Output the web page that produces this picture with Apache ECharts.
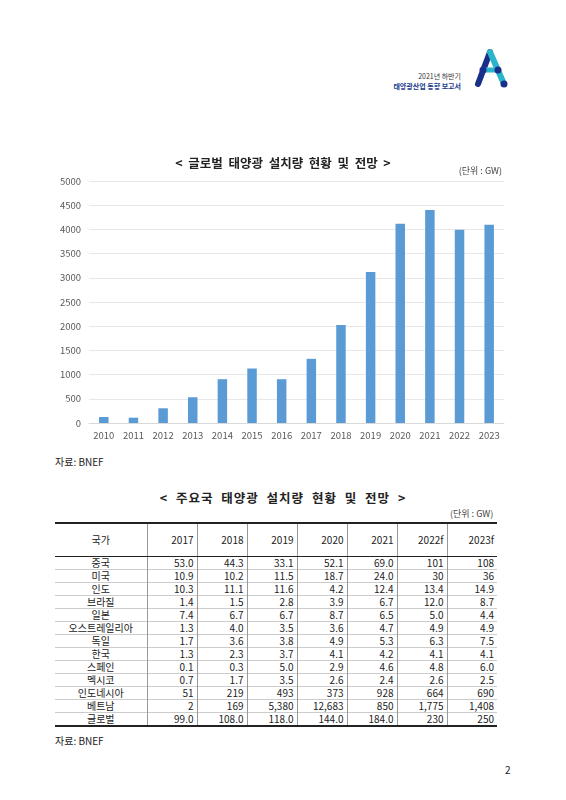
<!DOCTYPE html>
<html><head><meta charset="utf-8">
<script src="https://cdn.jsdelivr.net/npm/echarts@6/dist/echarts.min.js"></script>
<style>
body{margin:0;width:566px;height:800px;background:#fff;font-family:"Noto Sans CJK KR","Noto Sans",sans-serif;position:relative;overflow:hidden;color:#222}
.abs{position:absolute}
table{border-collapse:collapse;font-size:10px;position:absolute;left:55px;top:522px;width:442px;table-layout:fixed}
td{height:12px;padding:0 3px;line-height:10px;text-align:right;border-left:1px solid #999;border-top:1px solid #ccc}
td:first-child{text-align:center;border-left:none}
tr.h td{height:32px;border-top:2px solid #222;border-bottom:1.5px solid #222}
tr:last-child td{border-bottom:2px solid #222}
</style></head><body>
<div class="abs" style="right:105px;top:71px;font-size:7px;color:#333">2021년 하반기</div>
<div class="abs" style="right:105px;top:81px;font-size:7px;color:#1a3a8a;font-weight:bold">태양광산업 동향 보고서</div>
<svg class="abs" style="left:472px;top:48px" width="40" height="40">
<line x1="6" y1="36" x2="18" y2="4" stroke="#1a2f8a" stroke-width="6" stroke-linecap="round"/>
<line x1="18" y1="4" x2="32" y2="36" stroke="#2bb5c8" stroke-width="6" stroke-linecap="round"/>
<line x1="11" y1="22" x2="26" y2="22" stroke="#2bb5c8" stroke-width="5"/>
<circle cx="11" cy="22" r="3.5" fill="#1a2f8a"/><circle cx="26" cy="22" r="3.5" fill="#1a2f8a"/>
<circle cx="32" cy="36" r="3.5" fill="#1a2f8a"/>
</svg>
<div id="c" class="abs" style="left:0;top:140px;width:566px;height:310px"></div>
<div class="abs" style="left:55px;top:454px;font-size:10px">자료: BNEF</div>
<div class="abs" style="left:0;width:566px;top:488px;text-align:center;font-size:12.5px;font-weight:bold;letter-spacing:1px;word-spacing:4px">&lt; 주요국 태양광 설치량 현황 및 전망 &gt;</div>
<div class="abs" style="left:450px;top:507px;font-size:9px;color:#444">(단위 : GW)</div>
<table id="t"></table>
<div class="abs" style="left:55px;top:733px;font-size:10px">자료: BNEF</div>
<div class="abs" style="left:505px;top:762px;font-size:10px">2</div>
<script>
const years=['2010','2011','2012','2013','2014','2015','2016','2017','2018','2019','2020','2021','2022','2023'];
const installed=[124,110,304,532,905,1126,905,1326,2024,3122,4116,4400,3992,4096];
const tableHeader=['국가','2017','2018','2019','2020','2021','2022f','2023f'];
const countries=['중국','미국','인도','브라질','일본','오스트레일리아','독일','한국','스페인','멕시코','인도네시아','베트남','글로벌'];
const tableValues=[
['53.0','44.3','33.1','52.1','69.0','101','108'],
['10.9','10.2','11.5','18.7','24.0','30','36'],
['10.3','11.1','11.6','4.2','12.4','13.4','14.9'],
['1.4','1.5','2.8','3.9','6.7','12.0','8.7'],
['7.4','6.7','6.7','8.7','6.5','5.0','4.4'],
['1.3','4.0','3.5','3.6','4.7','4.9','4.9'],
['1.7','3.6','3.8','4.9','5.3','6.3','7.5'],
['1.3','2.3','3.7','4.1','4.2','4.1','4.1'],
['0.1','0.3','5.0','2.9','4.6','4.8','6.0'],
['0.7','1.7','3.5','2.6','2.4','2.6','2.5'],
['51','219','493','373','928','664','690'],
['2','169','5,380','12,683','850','1,775','1,408'],
['99.0','108.0','118.0','144.0','184.0','230','250']];
let h='<colgroup><col style="width:92px">'+'<col style="width:50px">'.repeat(7)+'</colgroup>';
h+='<tr class="h">'+tableHeader.map(x=>'<td>'+x+'</td>').join('')+'</tr>';
countries.forEach((c,i)=>{h+='<tr><td>'+c+'</td>'+tableValues[i].map(v=>'<td>'+v+'</td>').join('')+'</tr>';});
document.getElementById('t').innerHTML=h;
const ch=echarts.init(document.getElementById('c'));
ch.setOption({
 textStyle:{fontFamily:'"Noto Sans CJK KR","Noto Sans",sans-serif'},
 title:[{text:'<  글로벌  태양광  설치량  현황  및  전망  >',left:'center',top:12,textStyle:{fontSize:12.5,fontWeight:'bold',color:'#222'}},
        {text:'(단위 : GW)',right:59,top:21,textStyle:{fontSize:9,fontWeight:'normal',color:'#444'}}],
 grid:{left:89,right:62,top:41,bottom:27},
 xAxis:{type:'category',data:years,axisLine:{lineStyle:{color:'#d9d9d9'}},axisTick:{show:false},axisLabel:{color:'#595959',fontSize:9.5,margin:8}},
 yAxis:{type:'value',min:0,max:5000,interval:500,axisLabel:{color:'#595959',fontSize:9.5,margin:8,formatter:v=>String(v)},splitLine:{lineStyle:{color:'#e8e8e8'}}},
 series:[{type:'bar',data:installed,barWidth:'32%',itemStyle:{color:'#5b9bd5'}}]
});
</script>
</body></html>
